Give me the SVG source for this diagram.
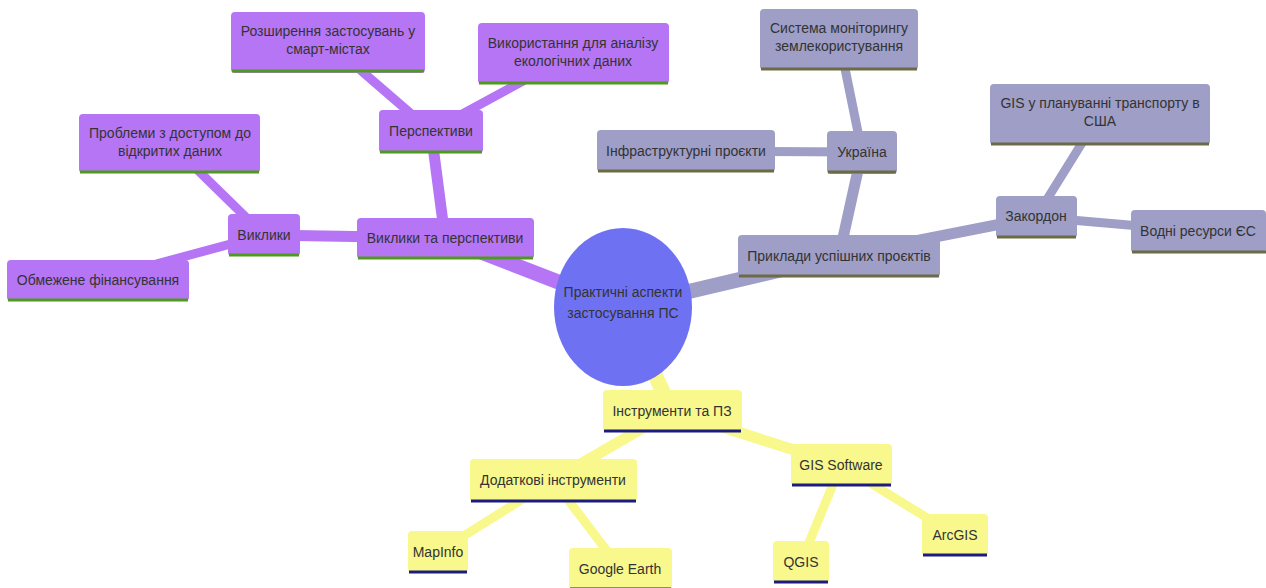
<svg xmlns="http://www.w3.org/2000/svg" width="1266" height="588" viewBox="0 0 1266 588">
<style>
text{font-family:"Liberation Sans",Arial,sans-serif;font-size:14px;fill:#333;text-anchor:middle}
.p{fill:#b675f4}.g{fill:#9e9ec6}.y{fill:#f8f88c}
.pb{stroke:#4e9a1c;stroke-width:3}.gb{stroke:#6b6b45;stroke-width:3}.yb{stroke:#1b1b80;stroke-width:3}
.ep{stroke:#b675f4;stroke-linecap:round}.eg{stroke:#9e9ec6;stroke-linecap:round}.ey{stroke:#f8f88c;stroke-linecap:round}
</style>
<rect width="1266" height="588" fill="#fff"/>
<g id="connectors">
<line class="ep" x1="623" y1="307" x2="445" y2="238" stroke-width="15"/>
<line class="ep" x1="445" y1="238" x2="431" y2="131" stroke-width="11"/>
<line class="ep" x1="445" y1="238" x2="264" y2="235" stroke-width="11"/>
<line class="ep" x1="264" y1="235" x2="97" y2="280" stroke-width="9"/>
<line class="ep" x1="264" y1="235" x2="170" y2="143" stroke-width="9"/>
<line class="ep" x1="431" y1="131" x2="328" y2="42" stroke-width="9"/>
<line class="ep" x1="431" y1="131" x2="573" y2="54" stroke-width="9"/>
<line class="eg" x1="623" y1="307" x2="839" y2="256" stroke-width="15"/>
<line class="eg" x1="839" y1="256" x2="862" y2="152" stroke-width="11"/>
<line class="eg" x1="839" y1="256" x2="1036" y2="217" stroke-width="11"/>
<line class="eg" x1="862" y1="152" x2="839" y2="39" stroke-width="9"/>
<line class="eg" x1="862" y1="152" x2="686" y2="151" stroke-width="9"/>
<line class="eg" x1="1036" y1="217" x2="1100" y2="114" stroke-width="9"/>
<line class="eg" x1="1036" y1="217" x2="1198" y2="231" stroke-width="9"/>
<line class="ey" x1="623" y1="307" x2="672" y2="411" stroke-width="15"/>
<line class="ey" x1="672" y1="411" x2="553" y2="480" stroke-width="11"/>
<line class="ey" x1="672" y1="411" x2="841" y2="465" stroke-width="11"/>
<line class="ey" x1="553" y1="480" x2="438" y2="552" stroke-width="9"/>
<line class="ey" x1="553" y1="480" x2="620" y2="568" stroke-width="9"/>
<line class="ey" x1="841" y1="465" x2="801" y2="562" stroke-width="9"/>
<line class="ey" x1="841" y1="465" x2="955" y2="535" stroke-width="9"/>
</g>
<g id="root"><ellipse cx="623" cy="307" rx="69" ry="79" fill="#6e72f2"/><text x="623" y="297">Практичні аспекти</text><text x="623" y="318">застосування ПС</text></g>
<g id="n-vyklyky-persp"><rect class="p" x="357" y="218" width="177" height="41" rx="4"/><line class="pb" x1="358" y1="258" x2="533" y2="258"/><text x="445" y="243">Виклики та перспективи</text></g>
<g id="n-vyklyky"><rect class="p" x="228" y="214" width="72" height="42" rx="4"/><line class="pb" x1="229" y1="255" x2="299" y2="255"/><text x="264" y="240">Виклики</text></g>
<g id="n-finance"><rect class="p" x="7" y="260" width="182" height="41" rx="4"/><line class="pb" x1="8" y1="300" x2="188" y2="300"/><text x="98" y="285">Обмежене фінансування</text></g>
<g id="n-access"><rect class="p" x="79" y="114" width="181" height="59" rx="4"/><line class="pb" x1="80" y1="172" x2="259" y2="172"/><text x="170" y="138">Проблеми з доступом до</text><text x="170" y="156">відкритих даних</text></g>
<g id="n-persp"><rect class="p" x="379" y="110" width="104" height="43" rx="4"/><line class="pb" x1="380" y1="152" x2="482" y2="152"/><text x="431" y="136">Перспективи</text></g>
<g id="n-smart"><rect class="p" x="231" y="12" width="194" height="61" rx="4"/><line class="pb" x1="232" y1="71" x2="424" y2="71"/><text x="328" y="36">Розширення застосувань у</text><text x="328" y="54">смарт-містах</text></g>
<g id="n-eco"><rect class="p" x="478" y="23" width="191" height="61" rx="4"/><line class="pb" x1="479" y1="83" x2="668" y2="83"/><text x="573" y="48">Використання для аналізу</text><text x="573" y="66">екологічних даних</text></g>
<g id="n-examples"><rect class="g" x="738" y="235" width="202" height="42" rx="4"/><line class="gb" x1="739" y1="276" x2="939" y2="276"/><text x="839" y="261">Приклади успішних проєктів</text></g>
<g id="n-ukraine"><rect class="g" x="827" y="131" width="70" height="43" rx="4"/><line class="gb" x1="828" y1="172" x2="896" y2="172"/><text x="862" y="157">Україна</text></g>
<g id="n-monitor"><rect class="g" x="760" y="9" width="158" height="61" rx="4"/><line class="gb" x1="761" y1="69" x2="917" y2="69"/><text x="839" y="33">Система моніторингу</text><text x="839" y="51">землекористування</text></g>
<g id="n-infra"><rect class="g" x="597" y="130" width="178" height="42" rx="4"/><line class="gb" x1="598" y1="171" x2="774" y2="171"/><text x="686" y="156">Інфраструктурні проєкти</text></g>
<g id="n-abroad"><rect class="g" x="996" y="196" width="81" height="42" rx="4"/><line class="gb" x1="997" y1="237" x2="1076" y2="237"/><text x="1036" y="221">Закордон</text></g>
<g id="n-usa"><rect class="g" x="990" y="84" width="220" height="61" rx="4"/><line class="gb" x1="991" y1="144" x2="1209" y2="144"/><text x="1100" y="108">GIS у плануванні транспорту в</text><text x="1100" y="126">США</text></g>
<g id="n-water"><rect class="g" x="1131" y="210" width="135" height="43" rx="4"/><line class="gb" x1="1132" y1="252" x2="1266" y2="252"/><text x="1198" y="236">Водні ресурси ЄС</text></g>
<g id="n-tools"><rect class="y" x="603" y="390" width="139" height="42" rx="4"/><line class="yb" x1="604" y1="431" x2="741" y2="431"/><text x="672" y="416">Інструменти та ПЗ</text></g>
<g id="n-addtools"><rect class="y" x="470" y="459" width="167" height="43" rx="4"/><line class="yb" x1="471" y1="501" x2="636" y2="501"/><text x="553" y="485">Додаткові інструменти</text></g>
<g id="n-gissw"><rect class="y" x="791" y="444" width="101" height="42" rx="4"/><line class="yb" x1="792" y1="485" x2="891" y2="485"/><text x="841" y="470">GIS Software</text></g>
<g id="n-mapinfo"><rect class="y" x="408" y="531" width="60" height="42" rx="4"/><line class="yb" x1="409" y1="572" x2="467" y2="572"/><text x="438" y="557">MapInfo</text></g>
<g id="n-gearth"><rect class="y" x="569" y="548" width="103" height="42" rx="4"/><line class="yb" x1="570" y1="589" x2="671" y2="589"/><text x="620" y="574">Google Earth</text></g>
<g id="n-qgis"><rect class="y" x="773" y="541" width="56" height="42" rx="4"/><line class="yb" x1="774" y1="582" x2="828" y2="582"/><text x="801" y="567">QGIS</text></g>
<g id="n-arcgis"><rect class="y" x="922" y="514" width="66" height="42" rx="4"/><line class="yb" x1="923" y1="555" x2="987" y2="555"/><text x="955" y="540">ArcGIS</text></g>
</svg>
